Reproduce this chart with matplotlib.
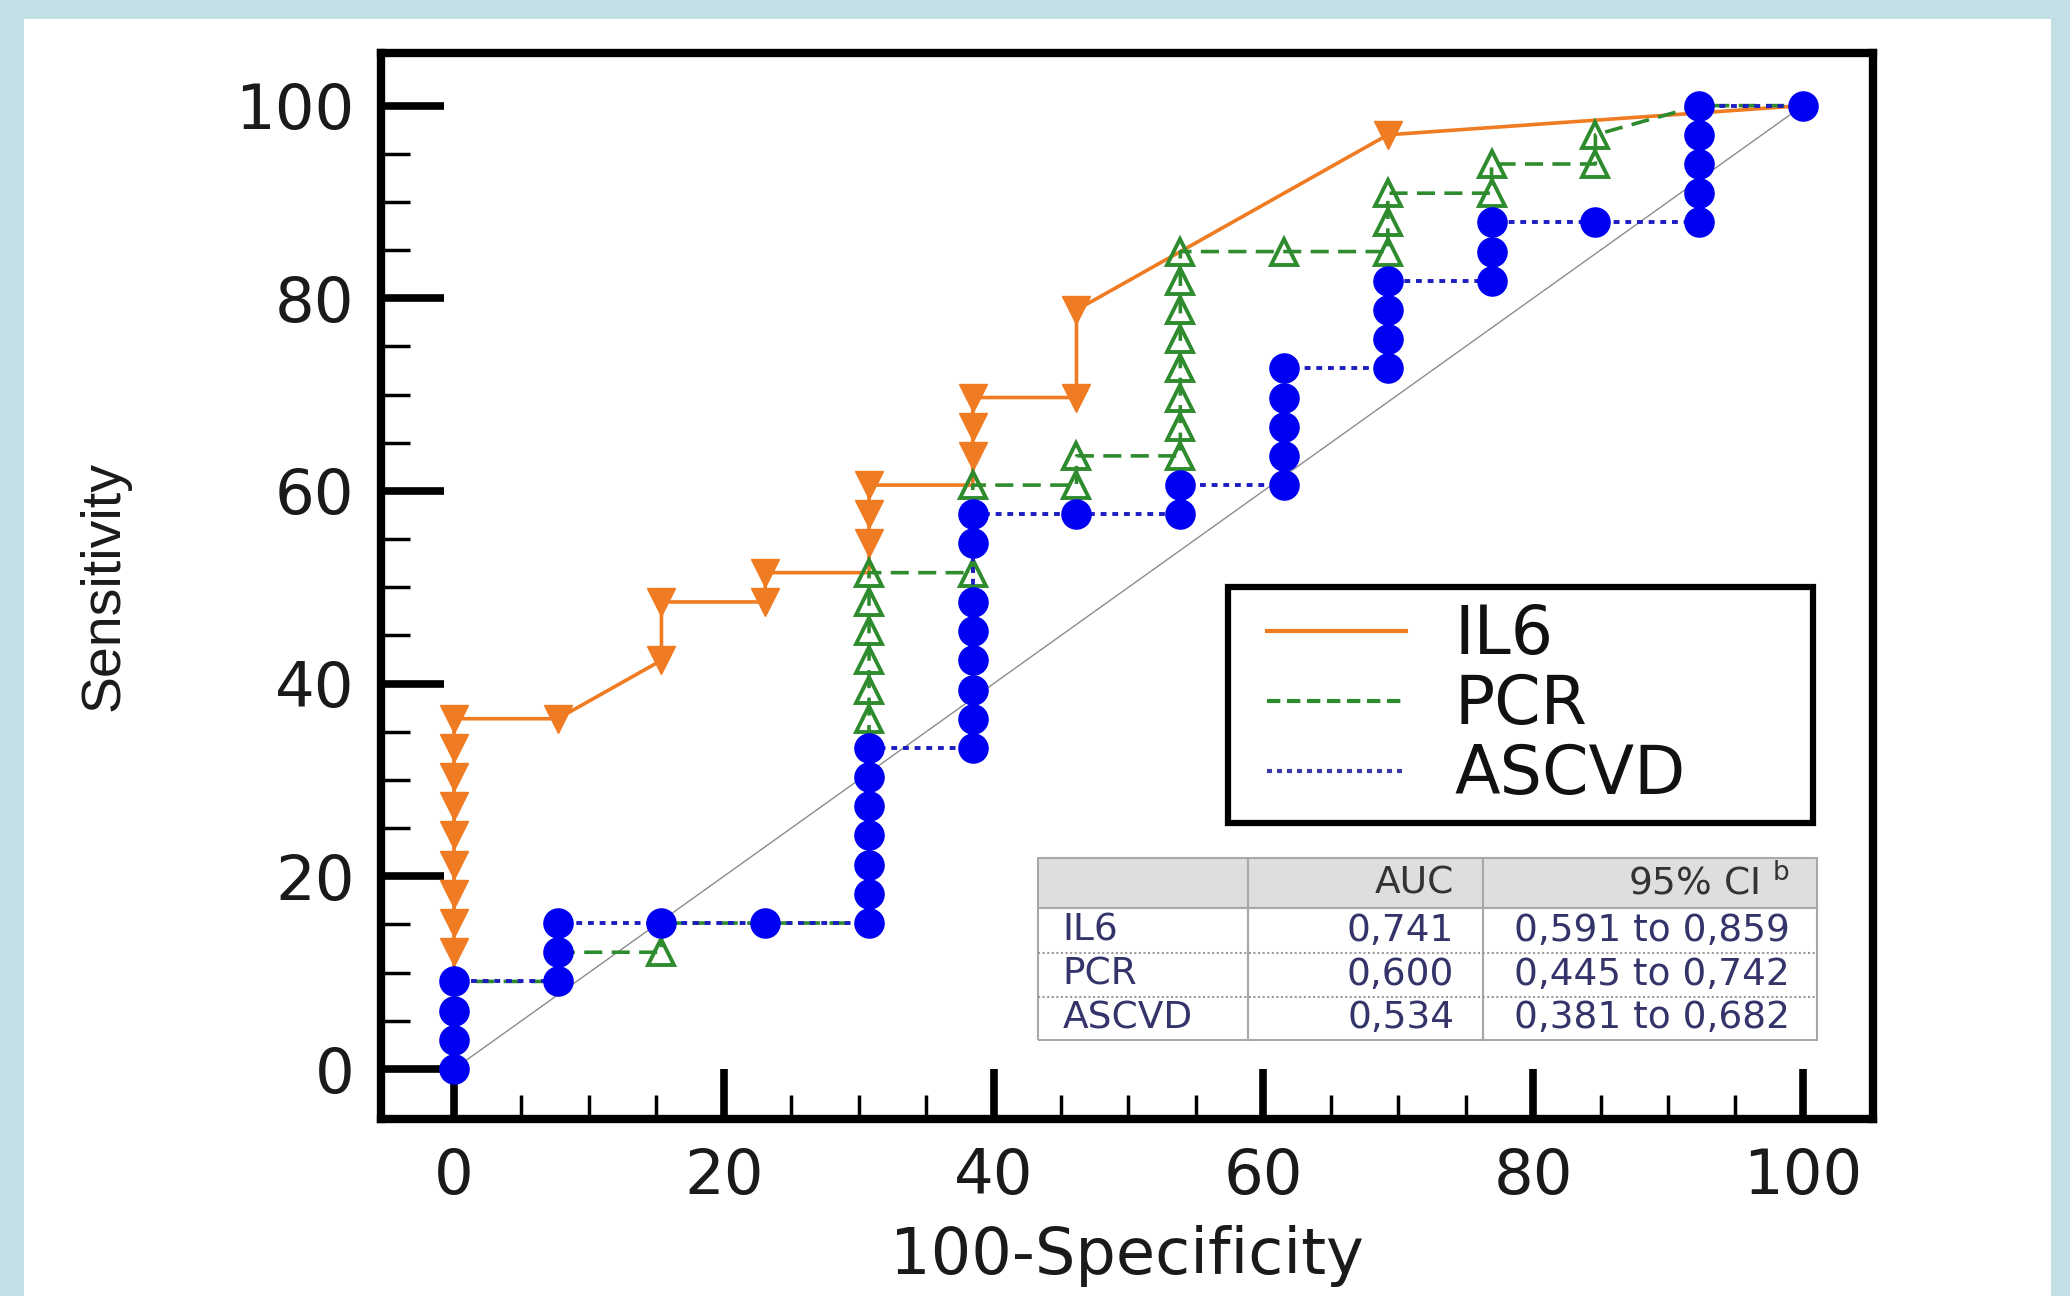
import numpy as np
import matplotlib
matplotlib.use("Agg")
import matplotlib.pyplot as plt
from matplotlib.patches import Rectangle
from matplotlib.lines import Line2D
from matplotlib.legend_handler import HandlerLine2D
from matplotlib.ticker import FixedLocator

# ---------------- data ----------------
il6_x = [0, 0, 0, 0, 0, 0, 0, 0, 0, 0, 7.69, 15.38, 15.38, 23.08, 23.08,
         30.77, 30.77, 30.77, 30.77, 38.46, 38.46, 38.46, 38.46, 46.15,
         46.15, 53.85, 69.23, 100]
il6_y = [0, 12.12, 15.15, 18.18, 21.21, 24.24, 27.27, 30.30, 33.33, 36.36,
         36.36, 42.42, 48.48, 48.48, 51.52, 51.52, 54.55, 57.58, 60.61,
         60.61, 63.64, 66.67, 69.70, 69.70, 78.79, 84.85, 96.97, 100]

pcr_x = [0, 0, 7.69, 7.69, 15.38, 15.38, 23.08, 30.77, 30.77, 30.77, 30.77,
         30.77, 30.77, 30.77, 38.46, 38.46, 46.15, 46.15, 53.85, 53.85,
         53.85, 53.85, 53.85, 53.85, 53.85, 53.85, 61.54, 69.23, 69.23,
         69.23, 76.92, 76.92, 84.62, 84.62, 92.31, 100]
pcr_y = [0, 9.09, 9.09, 12.12, 12.12, 15.15, 15.15, 15.15, 36.36, 39.39,
         42.42, 45.45, 48.48, 51.52, 51.52, 60.61, 60.61, 63.64, 63.64,
         66.67, 69.70, 72.73, 75.76, 78.79, 81.82, 84.85, 84.85, 84.85,
         87.88, 90.91, 90.91, 93.94, 93.94, 96.97, 100, 100]

ascvd_x = [0, 0, 0, 0, 7.69, 7.69, 7.69, 15.38, 23.08, 30.77, 30.77, 30.77,
           30.77, 30.77, 30.77, 30.77, 38.46, 38.46, 38.46, 38.46, 38.46,
           38.46, 38.46, 38.46, 46.15, 53.85, 53.85, 61.54, 61.54, 61.54,
           61.54, 61.54, 69.23, 69.23, 69.23, 69.23, 76.92, 76.92, 76.92,
           84.62, 92.31, 92.31, 92.31, 92.31, 92.31, 100]
ascvd_y = [0, 3.03, 6.06, 9.09, 9.09, 12.12, 15.15, 15.15, 15.15, 15.15,
           18.18, 21.21, 24.24, 27.27, 30.30, 33.33, 33.33, 36.36, 39.39,
           42.42, 45.45, 48.48, 54.55, 57.58, 57.58, 57.58, 60.61, 60.61,
           63.64, 66.67, 69.70, 72.73, 72.73, 75.76, 78.79, 81.82, 81.82,
           84.85, 87.88, 87.88, 87.88, 90.91, 93.94, 96.97, 100, 100]

series_names = ["IL6", "PCR", "ASCVD"]
x_ticks = [0, 20, 40, 60, 80, 100]
y_ticks = [0, 20, 40, 60, 80, 100]
x_label = "100-Specificity"
y_label = "Sensitivity"

table_header = ["", "AUC", "95% CI $^{\\mathrm{b}}$"]
auc_values = ["0,741", "0,600", "0,534"]
ci_values = ["0,591 to 0,859", "0,445 to 0,742", "0,381 to 0,682"]

# ---------------- styling ----------------
plt.rcParams["font.family"] = ["DejaVu Sans"]

C_IL6 = "#ef7b22"
C_PCR = "#2e8b2e"
C_ASC_L = "#1c1cc0"
C_ASC_M = "#0000f2"

fig = plt.figure(figsize=(20.7, 12.96), dpi=100)
fig.patch.set_facecolor("#c3dfe6")
fig.add_artist(Rectangle((24 / 2070, 0), (2051 - 24) / 2070, 1 - 19 / 1296,
                         transform=fig.transFigure, facecolor="white",
                         edgecolor="none", zorder=-10))

ax = fig.add_axes([0.18406, 0.13657, 0.72077, 0.82253])
ax.set_facecolor("white")
ax.set_xlim(-5.41, 105.2)
ax.set_ylim(-5.19, 105.46)

# reference diagonal
ax.plot([0, 100], [0, 100], color="#8c8c8c", lw=1.0, zorder=1)


def mark_mask(xs, ys, covers):
    pts = set()
    for cx, cy in covers:
        pts |= set(zip(cx, cy))
    return [i for i, p in enumerate(zip(xs, ys)) if p not in pts]


ax.plot(il6_x, il6_y, color=C_IL6, lw=2.6, ls="-", marker="v", ms=20,
        mfc=C_IL6, mec=C_IL6,
        markevery=mark_mask(il6_x, il6_y, [(pcr_x, pcr_y), (ascvd_x, ascvd_y)]),
        zorder=2)
ax.plot(pcr_x, pcr_y, color=C_PCR, lw=2.6, dashes=(5, 2.6), marker="^",
        ms=19, mfc="none", mec=C_PCR, mew=2.8,
        markevery=mark_mask(pcr_x, pcr_y, [(ascvd_x, ascvd_y)]), zorder=3)
ax.plot(ascvd_x, ascvd_y, color=C_ASC_L, lw=2.8, dashes=(1.5, 1.5),
        marker="o", ms=21, mfc=C_ASC_M, mec=C_ASC_M, zorder=4)

# axes frame and ticks
for s in ax.spines.values():
    s.set_linewidth(6)
    s.set_color("black")
ax.set_xticks(x_ticks)
ax.set_yticks(y_ticks)
ax.xaxis.set_minor_locator(FixedLocator(np.arange(0, 101, 5)))
ax.yaxis.set_minor_locator(FixedLocator(np.arange(0, 101, 5)))
ax.tick_params(axis="both", which="both", direction="in", top=False,
               right=False, colors="black", labelcolor="#1a1a1a",
               labelsize=45)
ax.tick_params(axis="y", which="major", length=45, width=5.5, pad=19)
ax.tick_params(axis="y", which="minor", length=21, width=2.5)
ax.tick_params(axis="x", which="major", length=36, width=5.5, pad=20)
ax.tick_params(axis="x", which="minor", length=17, width=2.5)

ax.set_xlabel(x_label, fontsize=46, color="#1a1a1a")
ax.xaxis.set_label_coords(0.5, -0.099)
ax.set_ylabel(y_label, fontsize=40, color="#1a1a1a",
              family=["Liberation Sans", "DejaVu Sans"])
ax.yaxis.set_label_coords(-0.1676, 0.5)

# legend
handles = [Line2D([], [], color=C_IL6, lw=3.0, ls="-"),
           Line2D([], [], color=C_PCR, lw=3.0, dashes=(3.2, 1.6)),
           Line2D([], [], color="#3a3aa8", lw=3.0, dashes=(1.2, 1.2))]
leg = ax.legend(handles, series_names, loc="upper left",
                bbox_to_anchor=(0.5677, 0.288, 0.392, 0.2106), mode="expand",
                borderaxespad=0, fontsize=48, handlelength=2.45,
                handletextpad=0.73, borderpad=0.22, labelspacing=0.06,
                fancybox=False, framealpha=1, edgecolor="black",
                handler_map={Line2D: HandlerLine2D(xpad=0.364)})
leg.get_frame().set_linewidth(4.5)
for t in leg.get_texts():
    t.set_color("#111111")

# AUC table
cell_text = [[n, a, c] for n, a, c in zip(series_names, auc_values, ci_values)]
col_w = [159, 178, 253]
col_w = [w / sum(col_w) for w in col_w]
row_h = [38, 34, 33, 33]
tb_left, tb_bottom, tb_w, tb_h = 0.4401, 0.0741, 0.5221, 0.1707
tbl = ax.table(cellText=cell_text, colLabels=table_header, colWidths=col_w,
               cellLoc="right", colLoc="right",
               bbox=[tb_left, tb_bottom, tb_w, tb_h])
tbl.auto_set_font_size(False)
tbl.set_fontsize(27)
tbl.set_zorder(6)
pads = [0.12, 0.12, 0.08]
for (r, c), cell in tbl.get_celld().items():
    cell.set_height(row_h[r] / sum(row_h))
    cell.set_linewidth(1.5)
    cell.set_edgecolor("#a8a8a8")
    cell.PAD = pads[c]
    if r == 0:
        cell.set_facecolor("#dedede")
        cell.get_text().set_color("#333333")
    else:
        cell.set_facecolor("white")
        cell.get_text().set_color("#34346a")
        cell.visible_edges = "LRB" if r == 3 else "LR"
    if c == 0:
        cell._loc = "left"
        cell.get_text().set_ha("left")
# dotted separators between data rows
tot = sum(row_h)
for k in (1, 2):
    yy = tb_bottom + tb_h * sum(row_h[-k:]) / tot
    ax.plot([tb_left, tb_left + tb_w], [yy, yy], transform=ax.transAxes,
            color="#9a9a9a", lw=1.5, ls=(0, (1, 1.2)), zorder=7,
            clip_on=False)

fig.savefig("out.png", dpi=100, facecolor=fig.get_facecolor())
